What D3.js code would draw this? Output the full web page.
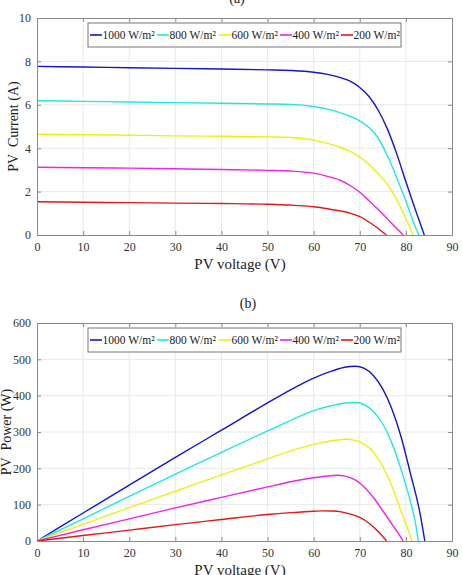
<!DOCTYPE html>
<html>
<head>
<meta charset="utf-8">
<script src="https://cdn.jsdelivr.net/npm/d3@7"></script>
<style>
  body { margin: 0; background: #fff; }
  svg text { font-family: "Liberation Serif", "DejaVu Serif", serif; }
</style>
</head>
<body>
<script>
// Irradiance levels (legend)
const levels = ['1000 W/m²', '800 W/m²', '600 W/m²', '400 W/m²', '200 W/m²'];
const colors = ['#1414d2', '#22e6e6', '#eeee10', '#ee22ee', '#e01818'];

// (a) I-V curves: voltage (V) and current (A)
const ivVolt1000 = [0, 10, 20, 30, 40, 50, 55, 60, 63, 66, 68, 70, 72, 74, 76, 78, 80, 82, 84];
const ivCurr1000 = [7.77, 7.74, 7.71, 7.68, 7.65, 7.61, 7.58, 7.5, 7.4, 7.24, 7.08, 6.8, 6.38, 5.75, 4.88, 3.75, 2.45, 1.2, 0];
const ivVolt800 = [0, 10, 20, 30, 40, 50, 55, 60, 63, 66, 68, 70, 72, 74, 76, 78, 80, 82, 82.8];
const ivCurr800 = [6.19, 6.16, 6.13, 6.1, 6.07, 6.04, 6.02, 5.92, 5.8, 5.62, 5.46, 5.26, 4.95, 4.47, 3.65, 2.65, 1.55, 0.4, 0];
const ivVolt600 = [0, 10, 20, 30, 40, 50, 55, 60, 63, 66, 68, 70, 72, 74, 76, 78, 80, 81.6];
const ivCurr600 = [4.64, 4.62, 4.6, 4.57, 4.55, 4.52, 4.49, 4.37, 4.22, 4.02, 3.84, 3.6, 3.25, 2.83, 2.33, 1.63, 0.75, 0];
const ivVolt400 = [0, 10, 20, 30, 40, 50, 55, 60, 63, 66, 68, 70, 72, 74, 76, 78, 79.4];
const ivCurr400 = [3.12, 3.1, 3.08, 3.05, 3.02, 2.98, 2.95, 2.85, 2.7, 2.5, 2.27, 1.97, 1.58, 1.17, 0.74, 0.3, 0];
const ivVolt200 = [0, 10, 20, 30, 40, 50, 55, 60, 63, 66, 68, 70, 72, 74, 75.8];
const ivCurr200 = [1.53, 1.51, 1.49, 1.47, 1.45, 1.42, 1.38, 1.3, 1.21, 1.1, 1.0, 0.85, 0.6, 0.3, 0];

// (b) P-V curves: voltage (V) and power (W)
const pvVolt1000 = [0, 10, 20, 30, 40, 50, 55, 60, 64, 67, 69, 71, 73, 75, 77, 79, 81, 83, 84.1];
const pvPow1000 = [0, 77, 154, 230, 305, 380, 416, 448, 468, 479, 481, 475, 455, 418, 362, 285, 185, 80, 0];
const pvVolt800 = [0, 10, 20, 30, 40, 50, 55, 60, 64, 67, 69, 71, 73, 75, 77, 79, 81, 82, 82.7];
const pvPow800 = [0, 61, 123, 184, 244, 303, 332, 359, 373, 380, 381, 375, 356, 322, 268, 195, 108, 55, 0];
const pvVolt600 = [0, 10, 20, 30, 40, 50, 55, 60, 64, 67, 69, 71, 73, 75, 77, 79, 80.5, 81.3];
const pvPow600 = [0, 46, 92, 137, 182, 226, 248, 266, 276, 280, 277, 266, 244, 205, 150, 80, 30, 0];
const pvVolt400 = [0, 10, 20, 30, 40, 50, 55, 60, 63, 65, 67, 69, 71, 73, 75, 77, 78.5, 79.4];
const pvPow400 = [0, 31, 61, 91, 120, 149, 163, 174, 179, 181, 178, 168, 148, 119, 83, 46, 18, 0];
const pvVolt200 = [0, 10, 20, 30, 40, 50, 55, 60, 62, 64, 66, 68, 70, 72, 74, 75.8];
const pvPow200 = [0, 15, 30, 45, 59, 73, 78, 82, 83, 82.5, 80, 74, 65, 49, 26, 0];

const xTicks = d3.range(0, 91, 10);
const iTicks = [0, 2, 4, 6, 8, 10];
const pTicks = [0, 100, 200, 300, 400, 500, 600];

const w = 462;
const h = 575;
const serif = '"Liberation Serif", "DejaVu Serif", serif';

const svg = d3
  .select('body')
  .append('svg')
  .attr('width', w)
  .attr('height', h)
  .attr('font-family', serif);

function zip(xs, ys) {
  return xs.map((x, i) => [x, ys[i]]);
}

function drawPanel(cfg) {
  const xScale = d3.scaleLinear().domain([0, 90]).range([37, 452]);
  const yScale = d3.scaleLinear().domain(cfg.yDomain).range([cfg.bottom, cfg.top]);
  const g = svg.append('g');

  // Grid
  g.append('g')
    .selectAll('line')
    .data(xTicks.slice(1, -1))
    .enter()
    .append('line')
    .attr('x1', d => xScale(d))
    .attr('x2', d => xScale(d))
    .attr('y1', cfg.top)
    .attr('y2', cfg.bottom)
    .attr('stroke', '#e8e8e8');
  g.append('g')
    .selectAll('line')
    .data(cfg.yTicks.slice(1, -1))
    .enter()
    .append('line')
    .attr('x1', 37)
    .attr('x2', 452)
    .attr('y1', d => yScale(d))
    .attr('y2', d => yScale(d))
    .attr('stroke', '#e8e8e8');

  // Curves
  const line = d3
    .line()
    .x(d => xScale(d[0]))
    .y(d => yScale(d[1]))
    .curve(d3.curveMonotoneX);
  g.append('g')
    .selectAll('path')
    .data(cfg.series)
    .enter()
    .append('path')
    .attr('d', d => line(d))
    .attr('fill', 'none')
    .attr('stroke', (d, i) => colors[i])
    .attr('stroke-width', 1.4);

  // Axes (box with inward ticks)
  const axisColor = '#8a8a8a';
  const bottomAxis = d3.axisBottom(xScale).tickValues(xTicks).tickSizeInner(-4).tickSizeOuter(0).tickPadding(7);
  const topAxis = d3.axisTop(xScale).tickValues(xTicks).tickSizeInner(-4).tickSizeOuter(0).tickFormat('');
  const leftAxis = d3.axisLeft(yScale).tickValues(cfg.yTicks).tickSizeInner(-4).tickSizeOuter(0).tickPadding(6);
  const rightAxis = d3.axisRight(yScale).tickValues(cfg.yTicks).tickSizeInner(-4).tickSizeOuter(0).tickFormat('');

  const axes = [
    g.append('g').attr('transform', 'translate(0,' + cfg.bottom + ')').call(bottomAxis),
    g.append('g').attr('transform', 'translate(0,' + cfg.top + ')').call(topAxis),
    g.append('g').attr('transform', 'translate(37,0)').call(leftAxis),
    g.append('g').attr('transform', 'translate(452,0)').call(rightAxis)
  ];
  axes.forEach(a => {
    a.attr('font-family', serif).attr('font-size', 12);
    a.select('.domain').attr('stroke', axisColor);
    a.selectAll('.tick line').attr('stroke', axisColor);
    a.selectAll('.tick text').attr('fill', '#333');
  });

  // Axis labels
  g.append('text')
    .attr('x', 240)
    .attr('y', cfg.bottom + 34)
    .attr('text-anchor', 'middle')
    .attr('fill', '#222')
    .style('font-size', '15px')
    .text('PV voltage (V)');
  g.append('text')
    .attr('transform', 'translate(' + cfg.yLabelX + ',' + (cfg.top + cfg.bottom) / 2 + ') rotate(-90)')
    .attr('text-anchor', 'middle')
    .attr('fill', '#222')
    .style('font-size', '14px')
    .style('white-space', 'pre')
    .text(cfg.yLabel);

  // Panel title
  g.append('text')
    .attr('x', cfg.titleX)
    .attr('y', cfg.titleY)
    .attr('text-anchor', 'middle')
    .attr('fill', '#222')
    .style('font-size', '14px')
    .text(cfg.title);

  // Legend
  const lg = g.append('g');
  lg.append('rect')
    .attr('x', 88)
    .attr('y', cfg.top + 5)
    .attr('width', 313)
    .attr('height', 24)
    .attr('fill', '#fff')
    .attr('stroke', '#777');
  const starts = [90, 157, 219, 280, 341];
  levels.forEach((name, i) => {
    const x0 = starts[i];
    const yMid = cfg.top + 17;
    lg.append('line')
      .attr('x1', x0)
      .attr('x2', x0 + 12)
      .attr('y1', yMid)
      .attr('y2', yMid)
      .attr('stroke', colors[i])
      .attr('stroke-width', 1.6);
    lg.append('text')
      .attr('x', x0 + 12.5)
      .attr('y', yMid + 4)
      .attr('fill', '#222')
      .style('font-size', '11.5px')
      .text(name);
  });
}

drawPanel({
  top: 18,
  bottom: 235,
  yDomain: [0, 10],
  yTicks: iTicks,
  yLabel: 'PV  Current (A)',
  yLabelX: 18,
  title: '(a)',
  titleX: 237,
  titleY: 3,
  series: [
    zip(ivVolt1000, ivCurr1000),
    zip(ivVolt800, ivCurr800),
    zip(ivVolt600, ivCurr600),
    zip(ivVolt400, ivCurr400),
    zip(ivVolt200, ivCurr200)
  ]
});

drawPanel({
  top: 323,
  bottom: 541,
  yDomain: [0, 600],
  yTicks: pTicks,
  yLabel: 'PV  Power (W)',
  yLabelX: 11,
  title: '(b)',
  titleX: 248,
  titleY: 308,
  series: [
    zip(pvVolt1000, pvPow1000),
    zip(pvVolt800, pvPow800),
    zip(pvVolt600, pvPow600),
    zip(pvVolt400, pvPow400),
    zip(pvVolt200, pvPow200)
  ]
});
</script>
</body>
</html>
